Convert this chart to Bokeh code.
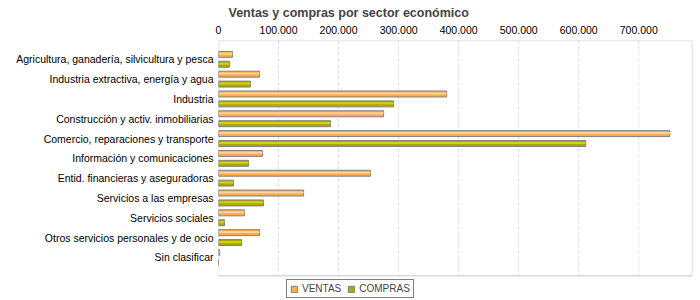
from bokeh.plotting import figure
from bokeh.models import Range1d, FixedTicker, Legend, LegendItem, Title, ColumnDataSource, BoxAnnotation
from bokeh.transform import dodge
from bokeh.embed import file_html
from bokeh.resources import INLINE

categories = [
    "Agricultura, ganadería, silvicultura y pesca",
    "Industria extractiva, energía y agua",
    "Industria",
    "Construcción y activ. inmobiliarias",
    "Comercio, reparaciones y transporte",
    "Información y comunicaciones",
    "Entid. financieras y aseguradoras",
    "Servicios a las empresas",
    "Servicios sociales",
    "Otros servicios personales y de ocio",
    "Sin clasificar",
]
ventas = [23300, 68300, 380000, 275000, 751700, 73300, 253300, 141700, 43300, 68300, 2000]
compras = [18300, 53300, 291700, 186700, 611700, 50000, 25000, 75000, 10000, 38300, 0]
x_ticks = [0, 100000, 200000, 300000, 400000, 500000, 600000, 700000]
x_tick_labels = ["0", "100.000", "200.000", "300.000", "400.000", "500.000", "600.000", "700.000"]

pos = list(range(len(categories)))
src = ColumnDataSource(dict(y=pos, ventas=ventas, compras=compras))

# layout (plot area) limits
X_MAX = 789500
Y_TOP = -0.95
Y_BOX_BOTTOM = 10.925
Y_CANVAS_BOTTOM = 12.175

FONT = "Liberation Sans"

p = figure(width=700, height=300, output_backend="svg", toolbar_location=None,
           x_axis_location="above",
           x_range=Range1d(0, X_MAX), y_range=Range1d(Y_CANVAS_BOTTOM, Y_TOP),
           min_border_left=218, min_border_right=8, min_border_top=38, min_border_bottom=0)

p.title = Title(text="Ventas y compras por sector económico", text_font=FONT,
                text_font_size="12.5px", text_font_style="bold", align="left",
                offset=10, standoff=6)

# dashed vertical grid lines, limited to the visible box
grid_src = ColumnDataSource(dict(x=x_ticks[1:]))
p.segment(x0="x", x1="x", y0=Y_TOP, y1=Y_BOX_BOTTOM, source=grid_src,
          line_color="#DADADA", line_dash="3 3", line_width=1)

r_v = p.hbar(y=dodge("y", -0.25, range=p.y_range), right="ventas", left=0, height=0.3,
             source=src, fill_color="#FFA94A", line_color="#808080", line_width=1)
p.hbar(y=dodge("y", -0.28, range=p.y_range), right="ventas", left=0, height=0.1,
       source=src, fill_color="#FFD39A", line_color=None)
r_c = p.hbar(y=dodge("y", 0.25, range=p.y_range), right="compras", left=0, height=0.3,
             source=src, fill_color="#A9A900", line_color="#808080", line_width=1)
p.hbar(y=dodge("y", 0.22, range=p.y_range), right="compras", left=0, height=0.1,
       source=src, fill_color="#D2D214", line_color=None)

box = BoxAnnotation(left=0, right=X_MAX, top=Y_TOP, bottom=Y_BOX_BOTTOM,
                    fill_color=None, fill_alpha=0, line_color="#808080", line_width=1.5)
p.add_layout(box)

xa = p.xaxis[0]
xa.ticker = FixedTicker(ticks=x_ticks)
xa.major_label_overrides = {t: l for t, l in zip(x_ticks, x_tick_labels)}
xa.major_tick_out = 0
xa.major_tick_in = 0
xa.minor_tick_out = 0
xa.minor_tick_in = 0
xa.axis_line_color = None
xa.major_label_text_font = FONT
xa.major_label_text_font_size = "10.5px"
xa.major_label_text_color = "#000000"
xa.major_label_standoff = 7

ya = p.yaxis[0]
ya.ticker = FixedTicker(ticks=pos)
ya.major_label_overrides = {i: c for i, c in zip(pos, categories)}
ya.major_tick_out = 0
ya.major_tick_in = 0
ya.minor_tick_out = 0
ya.minor_tick_in = 0
ya.axis_line_color = None
ya.major_label_text_font = FONT
ya.major_label_text_font_size = "10.5px"
ya.major_label_text_color = "#000000"
ya.major_label_standoff = 5

p.grid.grid_line_color = None
p.outline_line_color = None
p.background_fill_color = "white"
p.border_fill_color = "white"

legend = Legend(items=[LegendItem(label="VENTAS", renderers=[r_v]),
                       LegendItem(label="COMPRAS", renderers=[r_c])],
                orientation="horizontal", location=(68, 2),
                label_text_font=FONT, label_text_font_size="10px",
                glyph_width=8, glyph_height=8, label_standoff=4, spacing=6,
                padding=3, margin=0, label_height=9,
                border_line_color="#000000", border_line_width=1,
                background_fill_color="white")
p.add_layout(legend)

open("out.html", "w").write(file_html(p, INLINE))
